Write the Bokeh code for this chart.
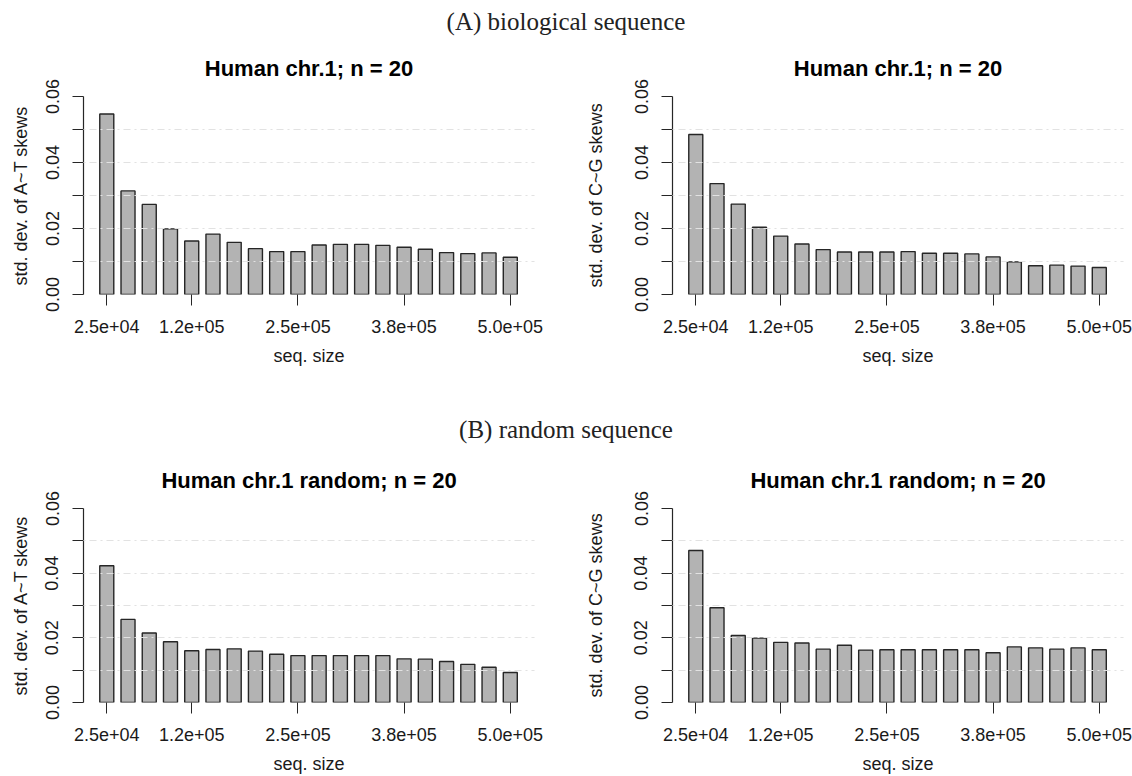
from bokeh.plotting import figure
from bokeh.layouts import column, row
from bokeh.models import Div, Range1d, FixedTicker, ColumnDataSource
from bokeh.embed import file_html
from bokeh.resources import INLINE

# ---- data ----
seq_sizes = [25000, 50000, 75000, 100000, 125000, 150000, 175000, 200000, 225000, 250000,
             275000, 300000, 325000, 350000, 375000, 400000, 425000, 450000, 475000, 500000]

at_bio = [0.0547, 0.0314, 0.0273, 0.0199, 0.0162, 0.0183, 0.0158, 0.0139, 0.0130, 0.0130,
          0.0150, 0.0152, 0.0152, 0.0149, 0.0143, 0.0137, 0.0127, 0.0124, 0.0126, 0.0113]
cg_bio = [0.0485, 0.0336, 0.0274, 0.0204, 0.0177, 0.0153, 0.0136, 0.0129, 0.0129, 0.0129,
          0.0130, 0.0125, 0.0125, 0.0123, 0.0114, 0.0099, 0.0087, 0.0089, 0.0086, 0.0082]
at_rand = [0.0423, 0.0257, 0.0215, 0.0188, 0.0160, 0.0164, 0.0166, 0.0159, 0.0149, 0.0145,
           0.0145, 0.0145, 0.0145, 0.0145, 0.0135, 0.0134, 0.0127, 0.0118, 0.0109, 0.0093]
cg_rand = [0.0470, 0.0293, 0.0207, 0.0199, 0.0186, 0.0184, 0.0165, 0.0177, 0.0162, 0.0163,
           0.0163, 0.0163, 0.0163, 0.0163, 0.0154, 0.0172, 0.0169, 0.0165, 0.0169, 0.0163]

x_ticks = [25000, 125000, 250000, 375000, 500000]
x_tick_labels = ["2.5e+04", "1.2e+05", "2.5e+05", "3.8e+05", "5.0e+05"]
y_ticks = [0.0, 0.01, 0.02, 0.03, 0.04, 0.05, 0.06]
y_tick_labels = ["0.00", "", "0.02", "", "0.04", "", "0.06"]

header_a = "(A) biological sequence"
header_b = "(B) random sequence"

SANS = "Liberation Sans"
INK = "#1a1a1a"


def panel(title, ylabel, values, h, top, bottom, left, right, ylab_standoff):
    p = figure(width=566, height=h, output_backend="svg", toolbar_location=None,
               x_range=Range1d(-2400, 528500), y_range=Range1d(0, 0.06),
               min_border_left=left, min_border_right=right,
               min_border_top=top, min_border_bottom=bottom)
    p.outline_line_color = None
    p.background_fill_color = "white"
    p.border_fill_color = "white"
    src = ColumnDataSource(dict(x=seq_sizes, top=values))
    p.vbar(x="x", top="top", bottom=0, width=16500, source=src,
           fill_color="#b3b3b3", line_color="#262626", line_width=1.4)

    p.title.text = title
    p.title.align = "center"
    p.title.text_font = SANS
    p.title.text_font_size = "22px"
    p.title.text_font_style = "bold"
    p.title.text_color = "#000000"
    p.title.standoff = 31

    p.xgrid.visible = False
    p.ygrid.ticker = FixedTicker(ticks=y_ticks)
    p.ygrid.grid_line_color = "#e2e2e2"
    p.ygrid.grid_line_dash = "2 4 7 4"
    p.ygrid.grid_line_width = 1.2
    p.ygrid.level = "overlay"

    xa = p.xaxis[0]
    xa.ticker = FixedTicker(ticks=x_ticks)
    xa.major_label_overrides = dict(zip(x_ticks, x_tick_labels))
    xa.bounds = (x_ticks[0], x_ticks[-1])
    xa.axis_line_color = None
    xa.major_tick_line_color = "#262626"
    xa.major_tick_out = 11
    xa.major_tick_in = 0
    xa.minor_tick_line_color = None
    xa.major_label_standoff = 14
    xa.major_label_text_font = SANS
    xa.major_label_text_font_size = "18px"
    xa.major_label_text_color = INK
    xa.axis_label = "seq. size"
    xa.axis_label_text_font = SANS
    xa.axis_label_text_font_size = "18px"
    xa.axis_label_text_font_style = "normal"
    xa.axis_label_text_color = INK
    xa.axis_label_standoff = 10

    ya = p.yaxis[0]
    ya.ticker = FixedTicker(ticks=y_ticks)
    ya.major_label_overrides = dict(zip(y_ticks, y_tick_labels))
    ya.bounds = (0, 0.06)
    ya.axis_line_color = "#262626"
    ya.axis_line_width = 1.2
    ya.major_tick_line_color = "#262626"
    ya.major_tick_out = 11
    ya.major_tick_in = 0
    ya.minor_tick_line_color = None
    ya.major_label_orientation = "vertical"
    ya.major_label_standoff = 14
    ya.major_label_text_font = SANS
    ya.major_label_text_font_size = "18px"
    ya.major_label_text_color = INK
    ya.axis_label = ylabel
    ya.axis_label_text_font = SANS
    ya.axis_label_text_font_size = "18px"
    ya.axis_label_text_font_style = "normal"
    ya.axis_label_text_color = INK
    ya.axis_label_standoff = ylab_standoff
    return p


def header(text, h, center):
    return Div(text=text, width=1132, height=h,
               styles={"font-family": "'Liberation Serif', serif", "font-size": "25px",
                       "color": "#222222", "text-align": "center", "width": "1132px",
                       "line-height": f"{2 * center}px", "margin": "0", "padding": "0"})


p1 = panel("Human chr.1; n = 20", "std. dev. of A~T skews", at_bio, 364, 60, 106, 83, 32, 12)
p2 = panel("Human chr.1; n = 20", "std. dev. of C~G skews", cg_bio, 364, 60, 106, 106, 9, 26)
p3 = panel("Human chr.1 random; n = 20", "std. dev. of A~T skews", at_rand, 328, 60, 70, 83, 32, 12)
p4 = panel("Human chr.1 random; n = 20", "std. dev. of C~G skews", cg_rand, 328, 60, 70, 106, 9, 26)

layout = column(header(header_a, 36, 22), row(p1, p2, spacing=0), header(header_b, 48, 30),
                row(p3, p4, spacing=0), spacing=0)

open("out.html", "w").write(file_html(layout, INLINE))
